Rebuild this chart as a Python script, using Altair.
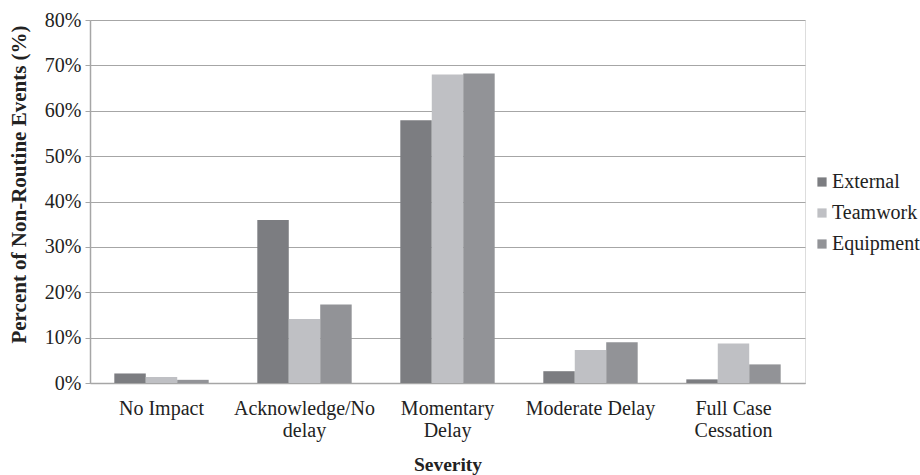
import json
import altair as alt
import pandas as pd

categories = ["No Impact", "Acknowledge/No delay", "Momentary Delay", "Moderate Delay", "Full Case Cessation"]
category_lines = [["No Impact"], ["Acknowledge/No", "delay"], ["Momentary", "Delay"], ["Moderate Delay"], ["Full Case", "Cessation"]]
series = ["External", "Teamwork", "Equipment"]
external = [2.1, 35.9, 57.9, 2.6, 0.8]
teamwork = [1.3, 14.1, 68.0, 7.3, 8.7]
equipment = [0.7, 17.3, 68.2, 9.0, 4.1]
y_ticks = [0, 10, 20, 30, 40, 50, 60, 70, 80]
colors = ["#7c7d81", "#bfc0c4", "#929397"]

rows = []
for s, vals in zip(series, [external, teamwork, equipment]):
    for c, v in zip(categories, vals):
        rows.append({"Severity": c, "Series": s, "Value": v})
df = pd.DataFrame(rows)

# multi-line label expression
expr = "''"
for c, lines in reversed(list(zip(categories, category_lines))):
    expr = f"datum.label == {json.dumps(c)} ? {json.dumps(lines)} : ({expr})"
expr = expr.replace('"', "'")

FONT = "Liberation Serif"
TXT = "#222222"

chart = alt.Chart(df).mark_bar().encode(
    x=alt.X("Severity:N", sort=categories,
            scale=alt.Scale(paddingInner=0.34, paddingOuter=0.17),
            axis=alt.Axis(title="Severity", labelAngle=0, labelExpr=expr,
                          labelFontSize=20, labelColor=TXT, labelPadding=15,
                          labelLineHeight=22,
                          titleFontSize=19.5, titleFontWeight="bold", titleColor=TXT,
                          titlePadding=15, ticks=False, domainColor="#a6a6a6",
                          domainWidth=1.5, grid=False, labelFont=FONT, titleFont=FONT)),
    xOffset=alt.XOffset("Series:N", sort=series, scale=alt.Scale(paddingInner=0, paddingOuter=0)),
    y=alt.Y("Value:Q", scale=alt.Scale(domain=[0, 80], nice=False),
            axis=alt.Axis(title="Percent of Non-Routine Events (%)", values=y_ticks,
                          labelExpr="datum.value + '%'", labelFontSize=20, labelColor=TXT,
                          labelPadding=4, tickSize=5, tickColor="#a6a6a6",
                          domainColor="#a6a6a6", domainWidth=1.5,
                          gridColor="#a6a6a6", gridWidth=1.2,
                          titleFontSize=21, titleFontWeight="bold", titleColor=TXT,
                          titlePadding=15, titleY=164, labelFont=FONT, titleFont=FONT)),
    color=alt.Color("Series:N", scale=alt.Scale(domain=series, range=colors),
                    legend=alt.Legend(title=None, orient="none", legendX=722, legendY=152,
                                      symbolType="square", symbolSize=85, symbolStrokeWidth=0,
                                      labelFont=FONT, labelFontSize=20, labelColor=TXT,
                                      rowPadding=11, symbolOffset=0, labelOffset=0)),
).properties(
    width=715, height=363,
    autosize=alt.AutoSizeParams(type="none"),
    padding={"left": 90, "top": 20, "right": 115, "bottom": 92},
).configure_view(stroke=None).configure(font=FONT)

chart.save("out.html", embed_options={"renderer": "svg", "actions": False})
